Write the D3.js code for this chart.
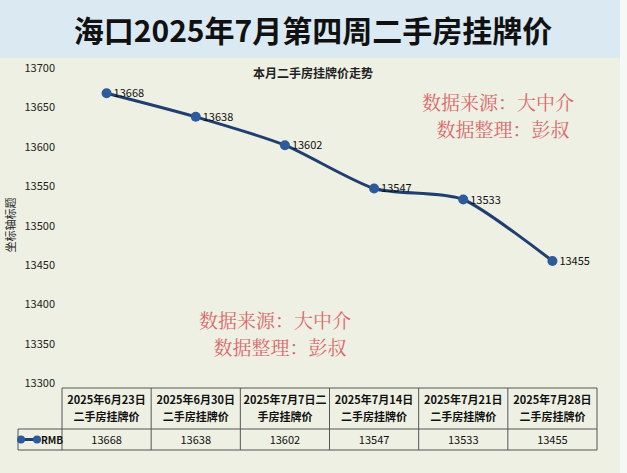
<!DOCTYPE html>
<html><head><meta charset="utf-8">
<script src="https://cdn.jsdelivr.net/npm/d3@7.9.0/dist/d3.min.js"></script>
<style>body{margin:0;background:#eef0e3;}svg{display:block;}</style>
</head><body><svg id="c" width="627" height="473"></svg>
<script>
// data
const dates = ['2025年6月23日', '2025年6月30日', '2025年7月7日二', '2025年7月14日', '2025年7月21日', '2025年7月28日'];
const dateSub = ['二手房挂牌价', '二手房挂牌价', '手房挂牌价', '二手房挂牌价', '二手房挂牌价', '二手房挂牌价'];
const prices = [13668, 13638, 13602, 13547, 13533, 13455];
const yTicks = [13300, 13350, 13400, 13450, 13500, 13550, 13600, 13650, 13700];

const svg = d3.select('#c');
const font = '"Noto Sans CJK SC", sans-serif';

// backgrounds
svg.append('rect').attr('width', 627).attr('height', 473).attr('fill', '#eef0e3');
svg.append('rect').attr('width', 627).attr('height', 58).attr('fill', '#dbeaf2');
svg.append('rect').attr('x', 620).attr('width', 7).attr('height', 473).attr('fill', '#f6f8f6');
svg.append('text').attr('x', 313).attr('y', 42).attr('text-anchor', 'middle')
  .attr('font-family', font).attr('font-weight', 'bold').attr('font-size', 30).attr('fill', '#111')
  .text('海口2025年7月第四周二手房挂牌价');

const x = d3.scaleBand().domain(dates).range([62, 597]);
const y = d3.scaleLinear().domain([13300, 13700]).range([383, 68]);

// y axis labels
svg.append('g').selectAll('text').data(yTicks).join('text')
  .attr('x', 55).attr('y', d => y(d) + 4).attr('text-anchor', 'end')
  .attr('font-family', font).attr('font-size', 11).attr('fill', '#222').text(d => d);
svg.append('text').attr('transform', 'translate(15,225) rotate(-90)').attr('text-anchor', 'middle')
  .attr('font-family', font).attr('font-size', 11).attr('fill', '#222').text('坐标轴标题');

svg.append('text').attr('x', 313).attr('y', 78).attr('text-anchor', 'middle')
  .attr('font-family', font).attr('font-weight', 'bold').attr('font-size', 12).attr('fill', '#222')
  .text('本月二手房挂牌价走势');

// line
const cx = (d, i) => x(dates[i]) + x.bandwidth() / 2;
svg.append('path').datum(prices)
  .attr('d', d3.line().x(cx).y(d => y(d)).curve(d3.curveCardinal.tension(0.3)))
  .attr('fill', 'none').attr('stroke', '#1f3f70').attr('stroke-width', 3);
svg.append('g').selectAll('circle').data(prices).join('circle')
  .attr('cx', cx).attr('cy', d => y(d)).attr('r', 5).attr('fill', '#2d5a9a');
svg.append('g').selectAll('text').data(prices).join('text')
  .attr('x', (d, i) => cx(d, i) + 7).attr('y', d => y(d) + 4)
  .attr('font-family', font).attr('font-size', 11).attr('fill', '#111').text(d => d);

// watermarks
const wm = [[498, 110, '数据来源：大中介'], [503, 137, '数据整理：彭叔'], [275, 328, '数据来源：大中介'], [280, 355, '数据整理：彭叔']];
svg.append('g').selectAll('text').data(wm).join('text')
  .attr('x', d => d[0]).attr('y', d => d[1]).attr('text-anchor', 'middle')
  .attr('font-family', '"Noto Serif CJK SC", "Noto Sans CJK SC", serif').attr('font-size', 19).attr('fill', '#d9686a')
  .text(d => d[2]);

// data table
const rowTop = 388, rowMid = 429, rowBot = 450;
const tb = svg.append('g').attr('stroke', '#555').attr('stroke-width', 1);
tb.append('line').attr('x1', 62).attr('x2', 597).attr('y1', rowTop).attr('y2', rowTop);
tb.append('line').attr('x1', 18).attr('x2', 597).attr('y1', rowMid).attr('y2', rowMid);
tb.append('line').attr('x1', 18).attr('x2', 597).attr('y1', rowBot).attr('y2', rowBot);
tb.append('line').attr('x1', 18).attr('x2', 18).attr('y1', rowMid).attr('y2', rowBot);
tb.selectAll('.v').data(dates.concat(['end'])).join('line')
  .attr('x1', (d, i) => 62 + i * x.bandwidth()).attr('x2', (d, i) => 62 + i * x.bandwidth())
  .attr('y1', rowTop).attr('y2', rowBot);

const head = svg.append('g').attr('font-family', font).attr('font-size', 11).attr('font-weight', 'bold')
  .attr('fill', '#111').attr('text-anchor', 'middle');
head.selectAll('.a').data(dates).join('text').attr('x', d => x(d) + x.bandwidth() / 2).attr('y', 404).text(d => d);
head.selectAll('.b').data(dateSub).join('text').attr('x', (d, i) => x(dates[i]) + x.bandwidth() / 2).attr('y', 421).text(d => d);
svg.append('g').selectAll('text').data(prices).join('text')
  .attr('x', (d, i) => x(dates[i]) + x.bandwidth() / 2).attr('y', 444).attr('text-anchor', 'middle')
  .attr('font-family', font).attr('font-size', 11).attr('fill', '#111').text(d => d);

// legend key
svg.append('line').attr('x1', 21).attr('x2', 37).attr('y1', 439.5).attr('y2', 439.5).attr('stroke', '#1f3f70').attr('stroke-width', 3);
svg.selectAll('.k').data([21, 37]).join('circle').attr('cx', d => d).attr('cy', 439.5).attr('r', 4).attr('fill', '#2d5a9a');
svg.append('text').attr('x', 41).attr('y', 443.5).attr('font-family', font).attr('font-size', 10).attr('font-weight', 'bold').attr('fill', '#111').text('RMB');
</script></body></html>
